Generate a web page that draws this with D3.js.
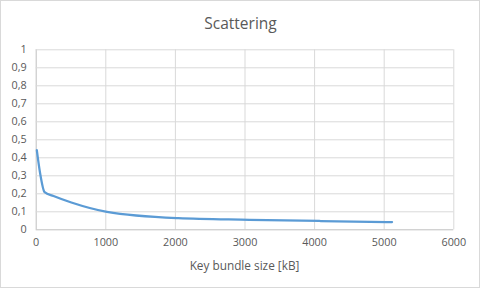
<!DOCTYPE html>
<html><head><meta charset="utf-8">
<script src="https://cdn.jsdelivr.net/npm/d3@7"></script>
<style>body{margin:0;background:#fff}svg{display:block}text{font-family:"Open Sans",sans-serif;fill:#595959}</style>
</head><body><svg id="c" width="481" height="289"></svg>
<script>
const title = "Scattering";
const xLabel = "Key bundle size [kB]";
const sizes = [16, 64, 128, 256, 512, 1024, 2048, 3072, 4096, 5120];
const scattering = [0.44, 0.31, 0.206, 0.185, 0.149, 0.097, 0.062, 0.053, 0.046, 0.04];
const xTicks = [0, 1000, 2000, 3000, 4000, 5000, 6000];
const yTicks = [0, 0.1, 0.2, 0.3, 0.4, 0.5, 0.6, 0.7, 0.8, 0.9, 1];

const svg = d3.select("#c");
svg.append("rect").attr("x",0.5).attr("y",0.5).attr("width",479).attr("height",287)
  .attr("fill","#fff").attr("stroke","#d9d9d9");
const x = d3.scaleLinear().domain([0,6000]).range([35.7,453.3]);
const y = d3.scaleLinear().domain([0,1]).range([229.3,49.3]);
const fmt = v => String(+v.toFixed(1)).replace(".", ",");

const gx = svg.append("g").attr("transform",`translate(0,${y(0)})`)
  .call(d3.axisBottom(x).tickValues(xTicks).tickSize(-(y(0)-y(1))).tickPadding(9.5).tickFormat(d=>d));
const gy = svg.append("g").attr("transform",`translate(${x(0)},0)`)
  .call(d3.axisLeft(y).tickValues(yTicks).tickSize(-(x(6000)-x(0))).tickPadding(9).tickFormat(fmt));
[gx,gy].forEach(g=>{
  g.select(".domain").remove();
  g.selectAll("line").attr("stroke","#d9d9d9").attr("stroke-width",1);
  g.selectAll("text").attr("font-size","10.8px").attr("fill","#595959").style("font-family",'"Open Sans",sans-serif');
});
gx.selectAll(".tick").filter(d=>d===0).select("line").attr("stroke","#bfbfbf");
gy.selectAll(".tick").filter(d=>d===0).select("line").attr("stroke","#bfbfbf");

const line = d3.line().x((d,i)=>x(sizes[i])).y(d=>y(d)).curve(d3.curveMonotoneX);
svg.append("path").datum(scattering).attr("d",line).attr("fill","none")
  .attr("stroke","#5b9bd5").attr("stroke-width",2.25).attr("stroke-linecap","round");

svg.append("text").attr("x",240.5).attr("y",29).attr("text-anchor","middle")
  .attr("font-size","15.5px").text(title);
svg.append("text").attr("x",244.5).attr("y",269.5).attr("text-anchor","middle")
  .attr("font-size","11.8px").text(xLabel);
</script></body></html>
